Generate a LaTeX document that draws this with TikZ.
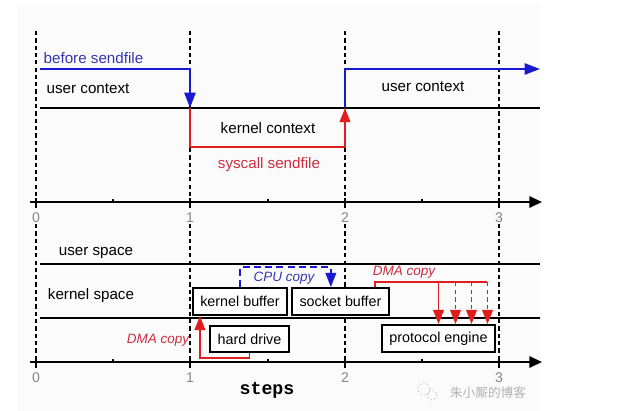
\documentclass[tikz,border=0pt]{standalone}
\usepackage{fontspec}
\setmainfont{Liberation Sans}
\setmonofont{Liberation Mono}
\newfontfamily\cjkfont{Noto Sans CJK SC}
\usetikzlibrary{arrows.meta}
\definecolor{ctxblue}{RGB}{25,25,210}
\definecolor{lblblue}{RGB}{55,55,175}
\definecolor{ctxred}{RGB}{225,30,30}
\definecolor{lblred}{RGB}{205,45,65}
\definecolor{tickgray}{RGB}{135,135,135}
\definecolor{paper}{RGB}{251,251,251}
\tikzset{guide/.style={dash pattern=on 3pt off 2.2pt, line width=0.9pt},
 timeaxis/.style={line width=1.5pt, -{Triangle[length=9pt,width=8pt]}},
 tierline/.style={line width=1.3pt},
 bluepath/.style={ctxblue, line width=1.4pt, -{Triangle[length=11pt,width=8pt]}},
 redpath/.style={ctxred, line width=1.4pt, -{Triangle[length=10pt,width=7.5pt]}},
 cpupath/.style={ctxblue, line width=1.3pt, dash pattern=on 5pt off 3pt, -{Triangle[length=10pt,width=7.5pt]}},
 buf/.style={draw, fill=white, line width=1.5pt, minimum height=0.67cm, inner sep=1pt, font=\fontsize{10.2}{12}\selectfont},
 lbl/.style={inner sep=1pt, font=\fontsize{10.8}{13}\selectfont},
 copylbl/.style={inner sep=1pt, font=\fontsize{9.6}{12}\selectfont\itshape},
 ticklbl/.style={tickgray, inner sep=1pt, font=\fontsize{10}{12}\selectfont},
 }

\begin{document}
\begin{tikzpicture}[x=0.025cm, y=-0.025cm]
        \fill[paper] (17,5) rectangle (540,411);
        \useasboundingbox (0,0) rectangle (623,411);
        \foreach \x in {36, 190, 345, 499} {
            \draw[guide] (\x, 31) -- (\x, 202);
            \draw[guide] (\x, 224) -- (\x, 362);
        }
        \foreach \y in {202, 362} {
            \draw[timeaxis] (30, \y) -- (542, \y);
            \foreach \x [count=\n from 0] in {36, 190, 345, 499} {
                \draw[line width=1.5pt] (\x, \y-4) -- (\x, \y+6);
                \node[ticklbl] (tick\n) at (\x, \y+16) {\n};
            }
            \foreach \x in {113, 268, 422} {
                \draw[line width=1pt] (\x, \y-3) -- (\x, \y);
            }
        }
        \draw[tierline] (40, 108) -- (540, 108);
        \draw[tierline] (40, 264) -- (540, 264);
        \draw[tierline] (40, 318) -- (540, 318);

        \draw[redpath] (190, 108) -- (190, 147) -- (345, 147) -- (345, 108);
        \draw[bluepath] (40, 69) -- (190, 69) -- (190, 108);
        \draw[bluepath] (345, 108) -- (345, 69) -- (540, 69);
        \node[lbl, lblblue, anchor=west] (before) at (42, 58) {before sendfile};
        \node[lbl, anchor=west] (userctxa) at (45, 89) {user context};
        \node[lbl] (kernelctx) at (268, 128) {kernel context};
        \node[lbl, lblred] (syscall) at (269, 165) {syscall sendfile};
        \node[lbl] (userctxb) at (423, 87) {user context};

        \node[lbl] (userspace) at (96, 253) {user space};
        \node[lbl] (kernelspace) at (91, 296) {kernel space};
        \node[font=\ttfamily\bfseries\fontsize{13}{15}\selectfont] (steps) at (267, 390) {steps};

        \node[buf, minimum width=2.35cm] (kbuf) at (240, 301.5) {kernel buffer};
        \node[buf, minimum width=2.43cm] (sbuf) at (340.5, 301.5) {socket buffer};
        \node[buf, minimum width=1.98cm] (hdd) at (249.5, 339) {hard drive};
        \node[buf, minimum width=2.83cm] (pe) at (438.5, 338.5) {protocol engine};
        \node[copylbl, lblred] (dmaa) at (158, 340) {DMA copy};
        \node[copylbl, lblblue] (cpu) at (284, 278) {CPU copy};
        \node[copylbl, lblred] (dmab) at (404, 272) {DMA copy};

        \draw[redpath] (hdd.south) -- ++(0, 5) -| ([xshift=0.2cm]kbuf.south west);
        \draw[cpupath] (kbuf.north) -- ++(0, -20) -| ([xshift=1cm]sbuf.north west);
        \coordinate (dmaend) at (487, 282);
        \draw[ctxred, line width=1.4pt] ([xshift=2.1cm]sbuf.north west) |- (dmaend);
        \draw[redpath] (pe.north |- dmaend) -- (pe.north);
        \foreach \dx in {17, 33, 49} {
            \path (pe.north) ++(\dx, 0) coordinate (drop);
            \draw[redpath, dash pattern=on 3pt off 2.5pt] (drop |- dmaend) -- (drop);
        }

        \draw[gray!45, dotted, line width=0.8pt] (424, 389) circle (6);
        \draw[gray!45, dotted, line width=0.8pt] (432, 395) circle (5);
        \node[text=gray!60, font=\cjkfont\fontsize{9}{11}\selectfont] (mark) at (488, 393) {朱小厮的博客};
    \end{tikzpicture}
\end{document}
